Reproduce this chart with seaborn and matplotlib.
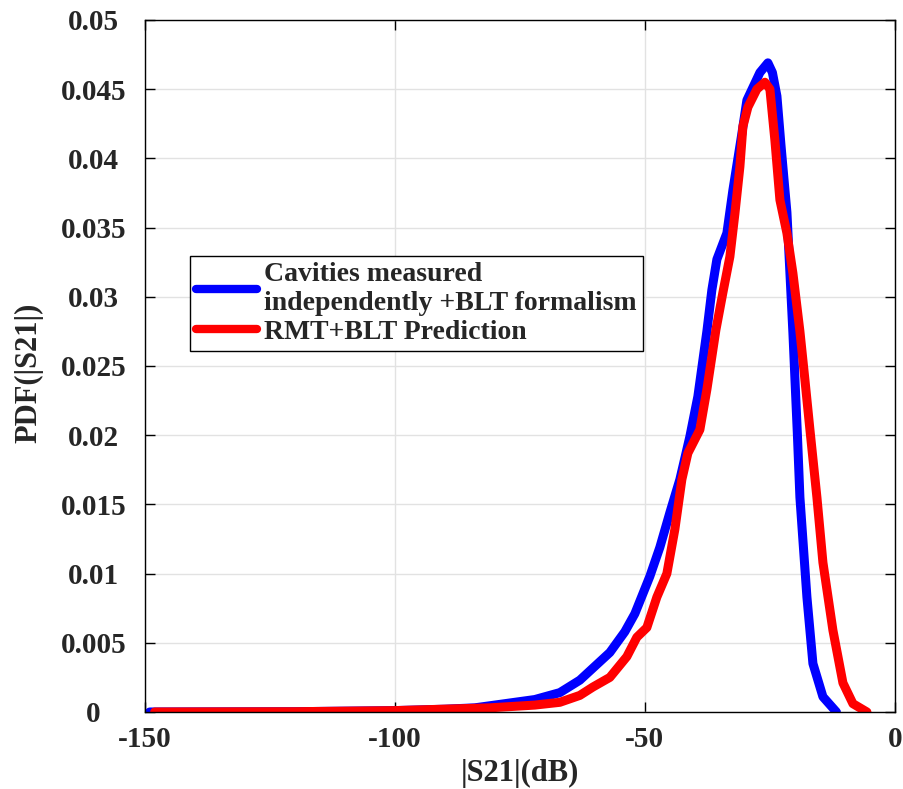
import numpy as np
import pandas as pd
import matplotlib
matplotlib.use("Agg")
import matplotlib.pyplot as plt
import seaborn as sns

# ---- data ----
blue_label = "Cavities measured\nindependently +BLT formalism"
red_label = "RMT+BLT Prediction"

blue_x = [-149, -120, -100, -90, -84, -78, -72, -67, -63, -60, -57, -54, -52, -49, -47,
          -45, -43, -41, -39.4, -37.6, -36.6, -35.6, -33.6, -32.4, -30.6, -29.6, -27,
          -25.4, -24.5, -23.6, -22.8, -21.6, -20.4, -19.5, -19, -17.6, -16.4, -14.4, -11.7]
blue_y = [0, 0.00002, 0.0001, 0.0002, 0.0003, 0.0006, 0.0009, 0.0014, 0.0023, 0.0033,
          0.0043, 0.0058, 0.0071, 0.0098, 0.0119, 0.0144, 0.0168, 0.0199, 0.0228, 0.0275,
          0.0305, 0.0327, 0.0346, 0.0377, 0.0418, 0.0442, 0.0462, 0.0469, 0.0462, 0.0445,
          0.0410, 0.0361, 0.0274, 0.0200, 0.0155, 0.0083, 0.0035, 0.0011, 0.0]

red_x = [-148, -120, -100, -81, -72, -67, -63, -60.4, -57, -53.6, -51.6, -49.6, -47.6,
         -45.6, -44, -42.6, -41.4, -39, -37.6, -35.8, -34.4, -33, -32, -31, -30.4, -29.4,
         -27.6, -26, -25, -24, -23, -21.6, -20.4, -19, -18, -17, -15.6, -14.4, -12.4,
         -10.4, -8.4, -5.6]
red_y = [0, 0.00002, 0.0001, 0.0003, 0.0005, 0.0007, 0.0012, 0.0018, 0.0025, 0.0040,
         0.0054, 0.0061, 0.0083, 0.0100, 0.0132, 0.0168, 0.0187, 0.0204, 0.0233, 0.0276,
         0.0303, 0.0329, 0.0360, 0.0394, 0.0423, 0.0437, 0.0450, 0.0455, 0.0450, 0.0413,
         0.0370, 0.0346, 0.0317, 0.0275, 0.0240, 0.0204, 0.0155, 0.0108, 0.0059, 0.0021,
         0.0006, 0.0]

x_ticks = [-150, -100, -50, 0]
x_tick_labels = ["-150", "-100", "-50", "0"]
y_ticks = [0, 0.005, 0.01, 0.015, 0.02, 0.025, 0.03, 0.035, 0.04, 0.045, 0.05]
y_tick_labels = ["0", "0.005", "0.01", "0.015", "0.02", "0.025", "0.03", "0.035",
                 "0.04", "0.045", "0.05"]

df = pd.concat([
    pd.DataFrame({"x": blue_x, "y": blue_y, "series": blue_label}),
    pd.DataFrame({"x": red_x, "y": red_y, "series": red_label}),
], ignore_index=True)

sns.set_style("whitegrid")
plt.rcParams["font.family"] = ["Liberation Serif", "DejaVu Serif"]
plt.rcParams["font.weight"] = "bold"

fig = plt.figure(figsize=(9.04, 7.89), dpi=100)
ax = fig.add_axes([0.160, 0.0976, 0.830, 0.8771])

sns.lineplot(data=df, x="x", y="y", hue="series",
             palette={blue_label: "#0000ff", red_label: "#ff0000"},
             estimator=None, sort=False, linewidth=6.5, ax=ax)

ax.set_xlim(-150, 0)
ax.set_ylim(0, 0.05)
ax.set_xticks(x_ticks)
ax.set_xticklabels(x_tick_labels)
ax.set_yticks(y_ticks)
ax.set_yticklabels(y_tick_labels)
ax.grid(True, color="#e2e2e2", linewidth=1.0)
for s in ax.spines.values():
    s.set_color("black")
    s.set_linewidth(1.0)
    s.set_visible(True)
ax.tick_params(direction="in", length=7, width=1, color="black",
               top=True, right=True, bottom=True, left=True, labelsize=21)
ax.tick_params(axis="x", pad=10)
ax.tick_params(axis="y", pad=37)
for lab in ax.get_xticklabels() + ax.get_yticklabels():
    lab.set_fontweight("bold")
for lab in ax.get_yticklabels():
    lab.set_horizontalalignment("center")

ax.set_xlabel("|S21|(dB)", fontsize=22, fontweight="bold", labelpad=4)
ax.set_ylabel("PDF(|S21|)", fontsize=22, fontweight="bold")
ax.yaxis.set_label_coords(-0.135, 0.49)

leg = ax.legend(loc="upper left", bbox_to_anchor=(0.06, 0.659), frameon=True,
                fancybox=False, framealpha=1, edgecolor="black",
                prop={"family": ["Liberation Serif"], "weight": "bold", "size": 20},
                handlelength=2.2, handletextpad=0.25, borderpad=0.22,
                labelspacing=0.12, borderaxespad=0)
leg.get_frame().set_linewidth(1.0)
for h in leg.get_lines():
    h.set_linewidth(6)

fig.savefig("out.png", dpi=100)
